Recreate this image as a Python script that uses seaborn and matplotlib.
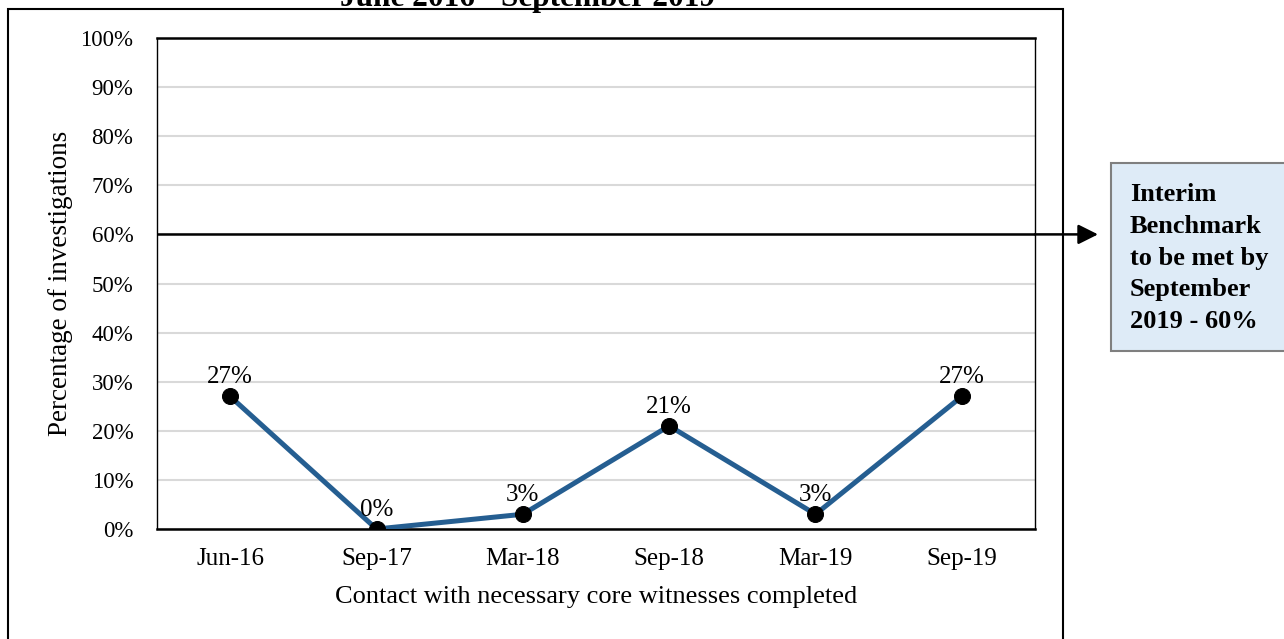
import matplotlib
matplotlib.use("Agg")
import matplotlib.pyplot as plt
import seaborn as sns
import pandas as pd
from matplotlib.patches import Rectangle
from matplotlib.ticker import MultipleLocator, FuncFormatter

categories = ["Jun-16", "Sep-17", "Mar-18", "Sep-18", "Mar-19", "Sep-19"]
values = [27, 0, 3, 21, 3, 27]
benchmark = 60
title_text = "June 2016 - September 2019"
x_label = "Contact with necessary core witnesses completed"
y_label = "Percentage of investigations"
box_text = "Interim\nBenchmark\nto be met by\nSeptember\n2019 - 60%"

sns.set_theme(style="white")
plt.rcParams["font.family"] = ["Liberation Serif", "DejaVu Serif"]

W, H = 1284, 639
fig = plt.figure(figsize=(W / 100, H / 100), dpi=100)
fig.subplots_adjust(left=157 / W, right=1035 / W, top=1 - 38 / H, bottom=1 - 529 / H)
ax = fig.add_subplot(111)

df = pd.DataFrame({"cat": categories, "val": values})
df["pos"] = range(len(df))

ax.yaxis.set_major_locator(MultipleLocator(10))
ax.grid(axis="y", color="#D9D9D9", lw=1.5, zorder=0)
ax.set_axisbelow(True)

sns.lineplot(data=df, x="pos", y="val", ax=ax, color="#255E91", lw=3.6,
             marker="o", markersize=11.5, markerfacecolor="black",
             markeredgecolor="black", zorder=5)

ax.axhline(benchmark, color="black", lw=1.8, zorder=4)

for p, v in zip(df["pos"], df["val"]):
    ax.annotate(f"{v}%", (p, v), xytext=(0, 6), textcoords="offset points",
                ha="center", va="bottom", fontsize=18, color="black", zorder=6)

ax.set_xlim(-0.5, len(categories) - 0.5)
ax.set_ylim(0, 100)
ax.set_xticks(df["pos"])
ax.set_xticklabels(categories)
ax.yaxis.set_major_formatter(FuncFormatter(lambda v, _: f"{v:.0f}%"))
ax.tick_params(axis="y", length=0, pad=17, labelsize=16.5, colors="black")
ax.tick_params(axis="x", length=0, pad=14, labelsize=18, colors="black")
ax.set_xlabel(x_label, fontsize=19, color="black", labelpad=11)
ax.set_ylabel(y_label, fontsize=19.5, color="black", labelpad=5)

for s in ["top", "bottom"]:
    ax.spines[s].set_linewidth(1.8)
    ax.spines[s].set_color("black")
for s in ["left", "right"]:
    ax.spines[s].set_linewidth(1.0)
    ax.spines[s].set_color("black")

# arrow continuing the benchmark line
ax.annotate("", xy=(1098 / W, benchmark), xycoords=("figure fraction", "data"),
            xytext=(len(categories) - 0.5, benchmark), textcoords="data",
            arrowprops=dict(arrowstyle="-|>,head_length=1.0,head_width=0.5",
                            color="black", lw=1.8, shrinkA=0, shrinkB=0),
            annotation_clip=False)

# outer frame
fig.patches.append(Rectangle((8 / W, -0.1), (1063 - 8) / W, (H - 9) / H + 0.1,
                             transform=fig.transFigure, fill=False,
                             edgecolor="black", lw=1.5, clip_on=False))

# benchmark box
fig.patches.append(Rectangle((1111 / W, 1 - 351 / H), 0.2, (351 - 163) / H,
                             transform=fig.transFigure, facecolor="#DEEBF7",
                             edgecolor="#7F7F7F", lw=1.5))
fig.text(1130 / W, 1 - 258 / H, box_text, ha="left", va="center",
         fontsize=19, fontweight="bold", color="black", linespacing=1.48)

# cut-off title
fig.text(528 / W, 1 - 6 / H, title_text, ha="center", va="baseline",
         fontsize=22.5, fontweight="bold", color="black")

fig.savefig("out.png", dpi=100)
